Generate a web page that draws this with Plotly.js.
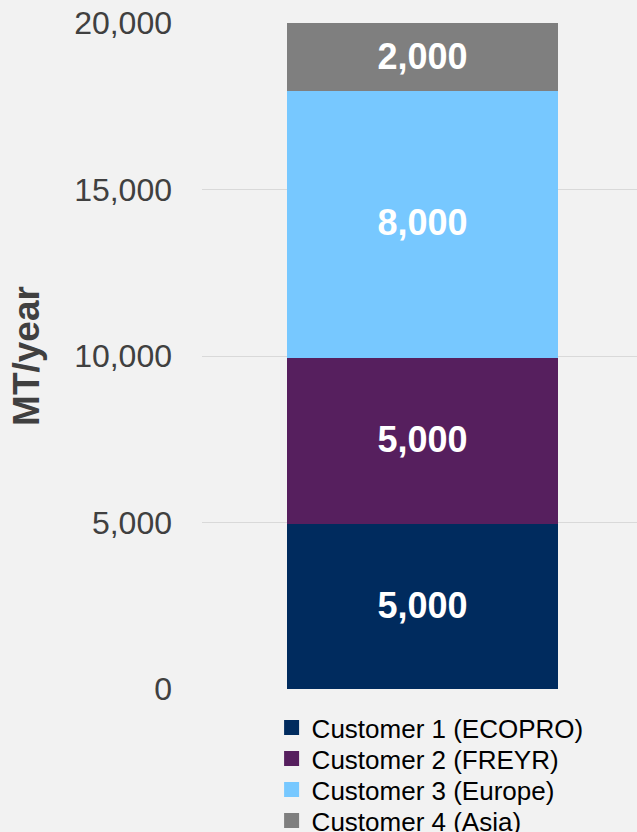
<!DOCTYPE html>
<html>
<head>
<meta charset="utf-8">
<script src="https://cdn.plot.ly/plotly-3.0.1.min.js"></script>
<style>
  html, body { margin: 0; padding: 0; background: #f2f2f2; }
  #chart { width: 637px; height: 832px; }
</style>
</head>
<body>
<div id="chart"></div>
<script>
const category = ['Total'];
const seriesNames = ['Customer 1 (ECOPRO)', 'Customer 2 (FREYR)', 'Customer 3 (Europe)', 'Customer 4 (Asia)'];
const customer1 = [5000];
const customer2 = [5000];
const customer3 = [8000];
const customer4 = [2000];
const seriesValues = [customer1, customer2, customer3, customer4];
const seriesColors = ['#002B5E', '#561F5E', '#77C8FF', '#7F7F7F'];
const yTickValues = [0, 5000, 10000, 15000, 20000];

const legendIds = ['legend', 'legend2', 'legend3', 'legend4'];
const legendCentersPx = [727.5, 758.5, 789.5, 820.5];

const traces = seriesValues.map((vals, i) => ({
  type: 'bar',
  name: seriesNames[i],
  legend: legendIds[i],
  x: category,
  y: vals,
  width: 0.616,
  marker: { color: seriesColors[i], line: { width: 3, color: seriesColors[i] } },
  texttemplate: '%{y:,.0f}',
  textposition: 'inside',
  insidetextanchor: 'middle',
  constraintext: 'none',
  textangle: 0,
  insidetextfont: { family: 'Liberation Sans, Arial, sans-serif', size: 36, color: '#ffffff', weight: 'bold' },
  hoverinfo: 'none'
}));

const plotTop = 23, plotBottom = 689;
const layout = {
  width: 637,
  height: 832,
  paper_bgcolor: '#f2f2f2',
  plot_bgcolor: '#f2f2f2',
  margin: { l: 202, r: 0, t: plotTop, b: 832 - plotBottom, pad: 0, autoexpand: false },
  barmode: 'stack',
  showlegend: true,
  font: { family: 'Liberation Sans, Arial, sans-serif', color: '#404040' },
  xaxis: {
    range: [-0.507, 0.493],
    showticklabels: false,
    showgrid: false,
    zeroline: false,
    showline: false,
    ticks: ''
  },
  yaxis: {
    range: [0, 20000],
    tickvals: yTickValues,
    tickformat: ',d',
    tickfont: { size: 32, color: '#404040' },
    showgrid: true,
    gridcolor: '#d9d9d9',
    gridwidth: 1,
    zeroline: false,
    showline: false,
    ticks: '',
    ticklabelstandoff: 29,
    title: { text: 'MT/year', font: { size: 37, color: '#404040', weight: 'bold' }, standoff: 23 }
  }
};

legendIds.forEach((id, i) => {
  layout[id] = {
    orientation: 'v',
    x: 0.16,
    xanchor: 'left',
    y: (plotBottom - legendCentersPx[i]) / (plotBottom - plotTop),
    yanchor: 'middle',
    bgcolor: 'rgba(0,0,0,0)',
    borderwidth: 0,
    font: { size: 26, color: '#000000' }
  };
});

Plotly.newPlot('chart', traces, layout, { displayModeBar: false, staticPlot: true });
</script>
</body>
</html>
